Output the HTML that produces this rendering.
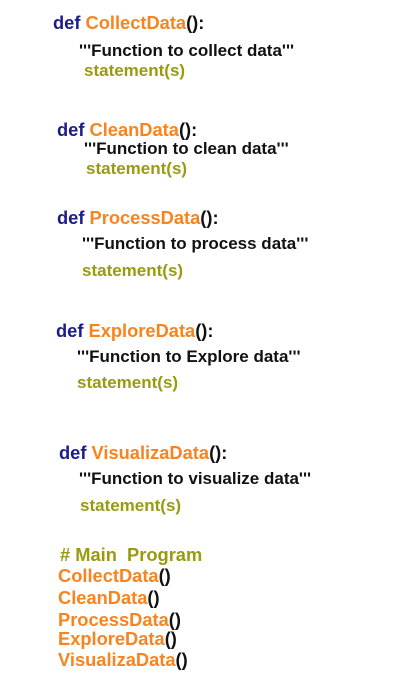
<!DOCTYPE html>
<html><head><meta charset="utf-8"><style>
body{margin:0;width:411px;height:698px;background:#fff;position:relative;overflow:hidden;font-family:"Liberation Sans",Arial,sans-serif;font-weight:bold;font-size:17px;}
div{position:absolute;line-height:20px;white-space:nowrap;}
.d{font-size:18.3px}
.k{color:#1c1c8a}.o{color:#f7841e}.g{color:#999a12}.b{color:#111}
</style></head><body>
<div class="d" style="left:53px;top:13px"><span class="k">def </span><span class="o">CollectData</span><span class="b">():</span></div>
<div class="b" style="left:79px;top:41px">'''Function to collect data'''</div>
<div class="g" style="left:84px;top:61px">statement(s)</div>

<div class="d" style="left:57px;top:120px"><span class="k">def </span><span class="o">CleanData</span><span class="b">():</span></div>
<div class="b" style="left:84px;top:139px">'''Function to clean data'''</div>
<div class="g" style="left:86px;top:159px">statement(s)</div>

<div class="d" style="left:57px;top:208px"><span class="k">def </span><span class="o">ProcessData</span><span class="b">():</span></div>
<div class="b" style="left:82px;top:234px">'''Function to process data'''</div>
<div class="g" style="left:82px;top:261px">statement(s)</div>

<div class="d" style="left:56px;top:321px"><span class="k">def </span><span class="o">ExploreData</span><span class="b">():</span></div>
<div class="b" style="left:77px;top:347px">'''Function to Explore data'''</div>
<div class="g" style="left:77px;top:373px">statement(s)</div>

<div class="d" style="left:59px;top:443px"><span class="k">def </span><span class="o">VisualizaData</span><span class="b">():</span></div>
<div class="b" style="left:79px;top:469px">'''Function to visualize data'''</div>
<div class="g" style="left:80px;top:496px">statement(s)</div>

<div class="g d" style="left:60px;top:545px"># Main&nbsp; Program</div>
<div class="d" style="left:58px;top:566px"><span class="o">CollectData</span><span class="b">()</span></div>
<div class="d" style="left:58px;top:588px"><span class="o">CleanData</span><span class="b">()</span></div>
<div class="d" style="left:58px;top:610px"><span class="o">ProcessData</span><span class="b">()</span></div>
<div class="d" style="left:58px;top:629px"><span class="o">ExploreData</span><span class="b">()</span></div>
<div class="d" style="left:58px;top:650px"><span class="o">VisualizaData</span><span class="b">()</span></div>
</body></html>
